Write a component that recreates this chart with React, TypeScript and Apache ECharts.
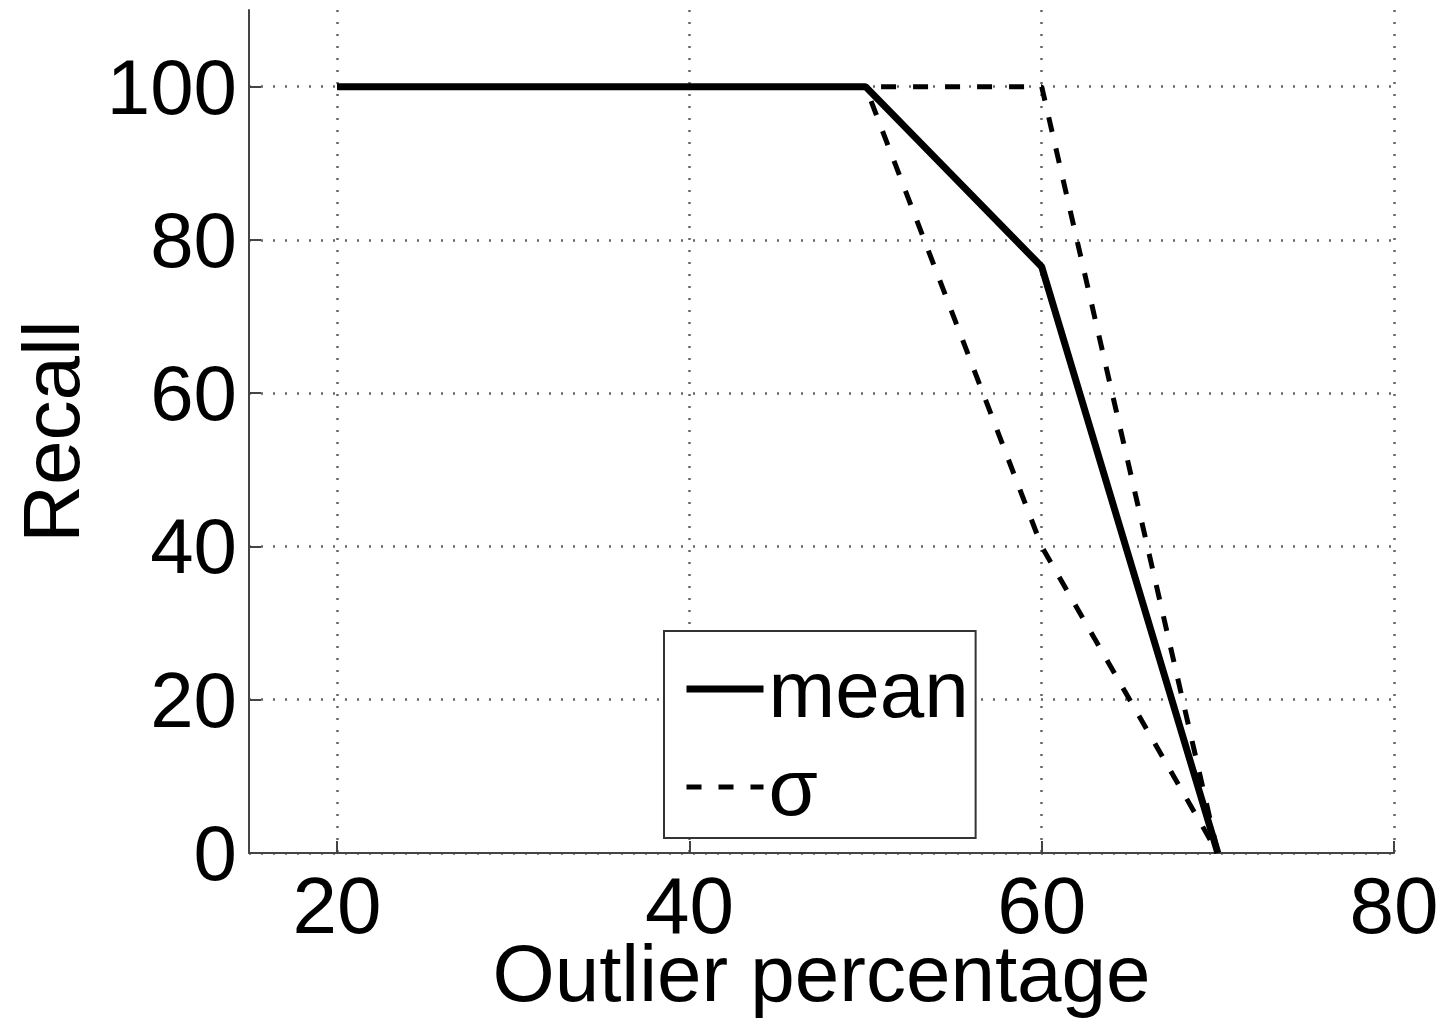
import React, { useEffect, useRef } from "react";
import * as echarts from "echarts";

const xValues = [20, 30, 40, 50, 60, 70];
const meanValues = [100, 100, 100, 100, 76.5, 0];
const sigmaUpper = [100, 100, 100, 100, 100, 0];
const sigmaLower = [100, 100, 100, 100, 40, 0];
const xTicks = [20, 40, 60, 80];
const yTicks = [0, 20, 40, 60, 80, 100];

const FONT = "Liberation Sans";
const pairs = (ys: number[]) => xValues.map((x, i) => [x, ys[i]]);

export default function App() {
  const ref = useRef<HTMLDivElement>(null);
  useEffect(() => {
    document.body.style.margin = "0";
    const chart = echarts.init(ref.current!, null, { renderer: "svg" });
    const dash = [15, 17];
    const noSymbol = { color: "rgba(0,0,0,0)", opacity: 0, borderWidth: 0 };
    chart.setOption({
      animation: false,
      backgroundColor: "#ffffff",
      textStyle: { fontFamily: FONT },
      grid: { left: 249, right: 47, top: 10, bottom: 171, containLabel: false, outerBoundsMode: "none" },
      legend: {
        orient: "vertical",
        left: 664,
        top: 631,
        padding: [18, 7, 11, 19],
        itemWidth: 77,
        itemHeight: 14,
        itemGap: 18,
        backgroundColor: "#ffffff",
        borderColor: "#333333",
        borderWidth: 2,
        borderRadius: 0,
        textStyle: { fontSize: 80, lineHeight: 80, color: "#000", fontFamily: FONT },
        data: [
          { name: "mean", itemStyle: noSymbol, lineStyle: { width: 7, type: "solid", color: "#000" } },
          { name: "σ", itemStyle: noSymbol, lineStyle: { width: 5, type: dash, color: "#000" } },
        ],
      },
      xAxis: {
        type: "value",
        min: 15,
        max: 80,
        name: "Outlier percentage",
        nameLocation: "middle",
        nameMoveOverlap: false,
        nameGap: 82,
        nameTextStyle: { fontSize: 80, lineHeight: 76, color: "#000", fontFamily: FONT },
        axisLine: { show: true, lineStyle: { color: "#444", width: 2 } },
        axisTick: { show: true, inside: true, length: 12, customValues: xTicks, lineStyle: { color: "#444", width: 2 } },
        axisLabel: { customValues: xTicks, fontSize: 80, lineHeight: 76, color: "#000", margin: 14, fontFamily: FONT },
        splitLine: { show: true, lineStyle: { color: "#666", width: 2.5, type: [2, 10] } },
      },
      yAxis: {
        type: "value",
        min: 0,
        max: 110,
        name: "Recall",
        nameLocation: "middle",
        nameRotate: 90,
        nameGap: 158,
        nameTextStyle: { fontSize: 80, color: "#000", fontFamily: FONT },
        axisLine: { show: true, lineStyle: { color: "#444", width: 2 } },
        axisTick: { show: true, inside: true, length: 12, customValues: yTicks, lineStyle: { color: "#444", width: 2 } },
        axisLabel: { customValues: yTicks, fontSize: 78, color: "#000", margin: 12, fontFamily: FONT },
        splitLine: { show: true, lineStyle: { color: "#666", width: 2.5, type: [2, 10] } },
      },
      series: [
        {
          name: "σ",
          type: "line",
          data: pairs(sigmaUpper),
          symbol: "none",
          itemStyle: { color: "#000" },
          lineStyle: { color: "#000", width: 5, type: dash },
          z: 2,
        },
        {
          name: "σ",
          type: "line",
          data: pairs(sigmaLower),
          symbol: "none",
          itemStyle: { color: "#000" },
          lineStyle: { color: "#000", width: 5, type: dash },
          z: 2,
        },
        {
          name: "mean",
          type: "line",
          data: pairs(meanValues),
          symbol: "none",
          itemStyle: { color: "#000" },
          lineStyle: { color: "#000", width: 7 },
          z: 3,
        },
      ],
    });
    return () => chart.dispose();
  }, []);
  return <div ref={ref} style={{ width: 1441, height: 1024 }} />;
}
